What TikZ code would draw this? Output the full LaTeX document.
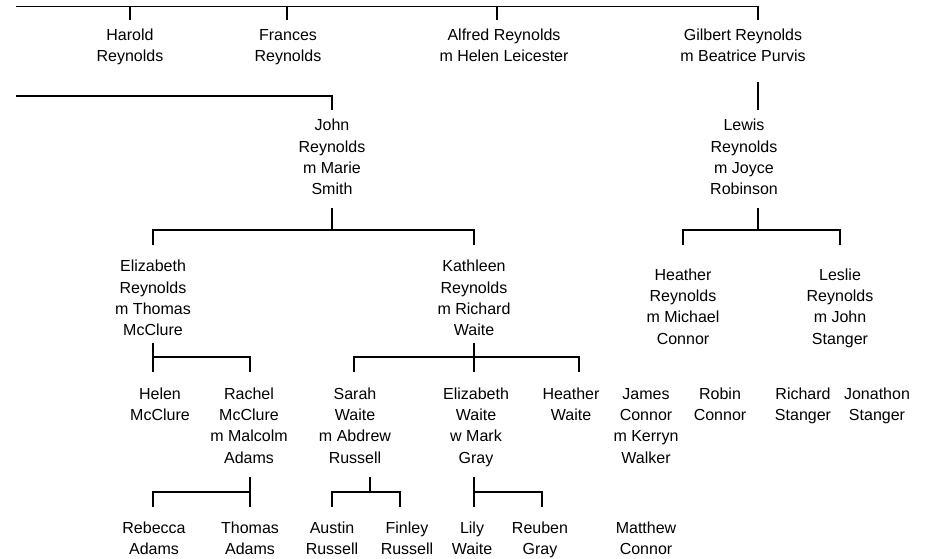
\documentclass[tikz,border=0pt]{standalone}
\usepackage{fontspec}
\setmainfont{Liberation Sans}
\begin{document}
\begin{tikzpicture}[x=0.75pt,y=-0.75pt,
  person/.style={anchor=north,inner sep=0pt,align=center,
    font=\fontsize{12}{16}\selectfont,text=black},
  link/.style={draw=black,line width=0.8pt}]
\useasboundingbox (0,0) rectangle (930,558);

% ---- people (x = text centre, y = top of first line) ----
\node[person] (harold)   at (130,25.1) {\strut Harold\\\strut Reynolds};
\node[person] (frances)  at (288,25.1) {\strut Frances\\\strut Reynolds};
\node[person] (alfred)   at (504,25.1) {\strut Alfred Reynolds\\\strut m Helen Leicester};
\node[person] (gilbert)  at (743,25.1) {\strut Gilbert Reynolds\\\strut m Beatrice Purvis};

\node[person] (john)     at (332,115.6) {\strut John\\\strut Reynolds\\\strut m Marie\\\strut Smith};
\node[person] (lewis)    at (744,115.6) {\strut Lewis\\\strut Reynolds\\\strut m Joyce\\\strut Robinson};

\node[person] (elizabeth) at (153,256.6) {\strut Elizabeth\\\strut Reynolds\\\strut m Thomas\\\strut McClure};
\node[person] (kathleen)  at (474,256.6) {\strut Kathleen\\\strut Reynolds\\\strut m Richard\\\strut Waite};
\node[person] (heather)   at (683,265.1) {\strut Heather\\\strut Reynolds\\\strut m Michael\\\strut Connor};
\node[person] (leslie)    at (840,265.1) {\strut Leslie\\\strut Reynolds\\\strut m John\\\strut Stanger};

\node[person] (helen)    at (160,384.1) {\strut Helen\\\strut McClure};
\node[person] (rachel)   at (249,384.1) {\strut Rachel\\\strut McClure\\\strut m Malcolm\\\strut Adams};
\node[person] (sarah)    at (355,384.1) {\strut Sarah\\\strut Waite\\\strut m Abdrew\\\strut Russell};
\node[person] (elizw)    at (476,384.1) {\strut Elizabeth\\\strut Waite\\\strut w Mark\\\strut Gray};
\node[person] (heatherw) at (571,384.1) {\strut Heather\\\strut Waite};
\node[person] (james)    at (646,384.1) {\strut James\\\strut Connor\\\strut m Kerryn\\\strut Walker};
\node[person] (robin)    at (720,384.1) {\strut Robin\\\strut Connor};
\node[person] (richard)  at (803,384.1) {\strut Richard\\\strut Stanger};
\node[person] (jonathon) at (877,384.1) {\strut Jonathon\\\strut Stanger};

\node[person] (rebecca)  at (154,518.1) {\strut Rebecca\\\strut Adams};
\node[person] (thomasa)  at (250,518.1) {\strut Thomas\\\strut Adams};
\node[person] (austin)   at (332,518.1) {\strut Austin\\\strut Russell};
\node[person] (finley)   at (407,518.1) {\strut Finley\\\strut Russell};
\node[person] (lily)     at (472,518.1) {\strut Lily\\\strut Waite};
\node[person] (reuben)   at (540,518.1) {\strut Reuben\\\strut Gray};
\node[person] (matthew)  at (646,518.1) {\strut Matthew\\\strut Connor};

% ---- connector end points ----
\coordinate (busA-l) at (16,6.5);
\coordinate (busA-r) at (758,6.5);
\coordinate (harold-in)  at (130,20);
\coordinate (frances-in) at (287,20);
\coordinate (alfred-in)  at (497,20);
\coordinate (gilbert-in) at (758,20);

\coordinate (busB-l)   at (16,96);
\coordinate (john-in)  at (332,110);
\coordinate (gilbert-out) at (758,82);
\coordinate (lewis-in) at (758,110);

\coordinate (john-out) at (332,208);
\coordinate (john-bus) at (332,230);
\coordinate (elizabeth-in) at (153,245);
\coordinate (kathleen-in)  at (474,245);

\coordinate (lewis-out) at (758,208);
\coordinate (lewis-bus) at (758,230);
\coordinate (heather-in) at (683,245);
\coordinate (leslie-in)  at (840,245);

\coordinate (elizabeth-out) at (153,343);
\coordinate (elizabeth-bus) at (153,357);
\coordinate (helen-in)  at (153,372);
\coordinate (rachel-in) at (250,372);

\coordinate (kathleen-out) at (474,343);
\coordinate (kathleen-bus) at (474,357);
\coordinate (sarah-in)    at (354,372);
\coordinate (elizw-in)    at (474,372);
\coordinate (heatherw-in) at (579,372);

\coordinate (rachel-out) at (250,477);
\coordinate (rachel-bus) at (250,492);
\coordinate (rebecca-in) at (153,507);
\coordinate (thomasa-in) at (250,507);

\coordinate (sarah-out) at (370,477);
\coordinate (sarah-bus) at (370,492);
\coordinate (austin-in) at (332,507);
\coordinate (finley-in) at (400,507);

\coordinate (elizw-out) at (474,477);
\coordinate (elizw-bus) at (474,492);
\coordinate (lily-in)   at (474,507);
\coordinate (reuben-in) at (542,507);

% ---- connectors ----
\draw[link] (busA-l) -- (busA-r) -- (gilbert-in);
\draw[link] (harold-in |- busA-l) -- (harold-in);
\draw[link] (frances-in |- busA-l) -- (frances-in);
\draw[link] (alfred-in |- busA-l) -- (alfred-in);

\draw[link] (busB-l) -| (john-in);
\draw[link] (gilbert-out) -- (lewis-in);

\draw[link] (john-out) -- (john-bus);
\draw[link] (elizabeth-in) |- (kathleen-in |- john-bus) -- (kathleen-in);

\draw[link] (lewis-out) -- (lewis-bus);
\draw[link] (heather-in) |- (leslie-in |- lewis-bus) -- (leslie-in);

\draw[link] (elizabeth-out) -- (helen-in);
\draw[link] (elizabeth-bus) -| (rachel-in);

\draw[link] (kathleen-out) -- (elizw-in);
\draw[link] (sarah-in) |- (heatherw-in |- kathleen-bus) -- (heatherw-in);

\draw[link] (rachel-out) -- (thomasa-in);
\draw[link] (rachel-bus) -| (rebecca-in);

\draw[link] (sarah-out) -- (sarah-bus);
\draw[link] (austin-in) |- (finley-in |- sarah-bus) -- (finley-in);

\draw[link] (elizw-out) -- (lily-in);
\draw[link] (elizw-bus) -| (reuben-in);
\end{tikzpicture}
\end{document}
